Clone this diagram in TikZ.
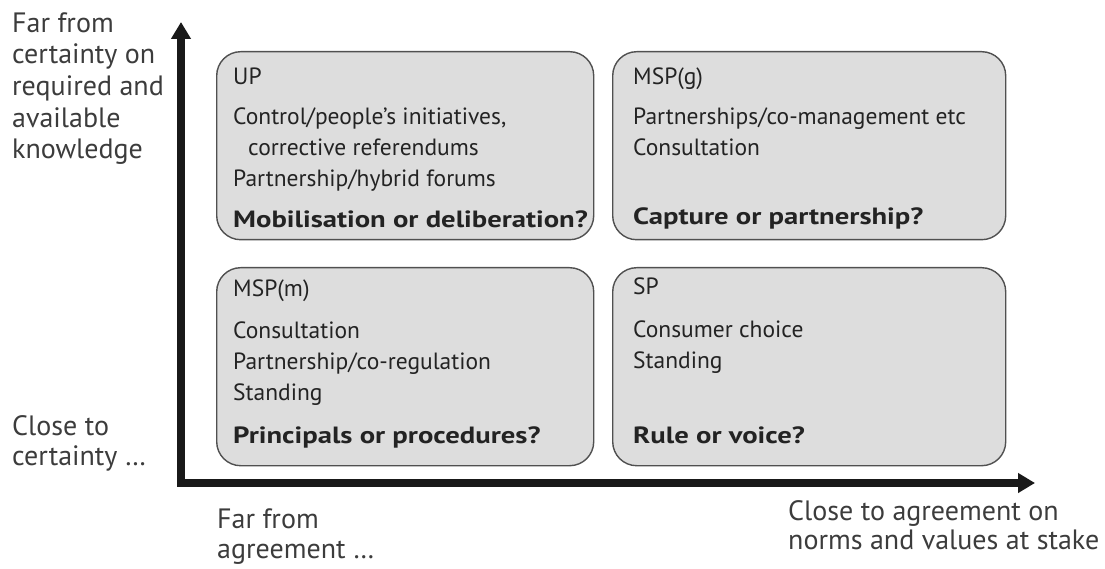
\documentclass[tikz,border=0pt]{standalone}
\usepackage{fontspec}
\setmainfont{PT Sans}
\newfontfamily\widebold[FakeStretch=1.22]{PT Sans Bold}
\usetikzlibrary{arrows.meta,positioning}

\definecolor{boxfill}{RGB}{221,221,221}
\definecolor{boxline}{RGB}{80,80,80}
\definecolor{inktext}{RGB}{35,35,35}
\definecolor{labelgray}{RGB}{60,60,60}

\newcommand{\question}[1]{{\widebold #1}}

\begin{document}
\begin{tikzpicture}[
    x=1pt, y=1pt,
    font=\fontsize{23.5}{31}\selectfont,
    quad/.style={draw=boxline, line width=1.4pt, fill=boxfill, rounded corners=24pt,
                 anchor=north west, inner sep=0pt},
    quadtext/.style={anchor=base west, align=left, inner sep=0pt, text=inktext},
    axislabel/.style={anchor=base west, align=left, inner sep=0pt, text=labelgray},
    axis/.style={line width=8pt, draw=black!90,
                 {Triangle[length=17pt,width=19pt]}-{Triangle[length=17pt,width=19pt]}}
]
\useasboundingbox (0,0) rectangle (1105,-569);

% the four quadrants
\node[quad, minimum width=377pt, minimum height=188pt] (up)  at (216,-51)  {};
\node[quad, minimum width=393pt, minimum height=188pt] (mspg) at (612,-51)  {};
\node[quad, minimum width=377pt, minimum height=198pt] (mspm) at (216,-267) {};
\node[quad, minimum width=393pt, minimum height=198pt] (sp)  at (612,-267) {};

% text is anchored at the baseline of its last (bold) line
\node[below right=177pt and 17pt of up.north west, quadtext] (uptext)
    {UP\\[9pt]
     Control/people's initiatives,\\
     \hspace*{15pt}corrective referendums\\
     Partnership/hybrid forums\\[10pt]
     \question{Mobilisation or deliberation?}};
\node[below right=174pt and 21pt of mspg.north west, quadtext] (mspgtext)
    {MSP(g)\\[9pt]
     Partnerships/co-management etc\\
     Consultation\\[38pt]
     \question{Capture or partnership?}};
\node[below right=176pt and 17pt of mspm.north west, quadtext] (mspmtext)
    {MSP(m)\\[11pt]
     Consultation\\
     Partnership/co-regulation\\
     Standing\\[12pt]
     \question{Principals or procedures?}};
\node[below right=176pt and 21pt of sp.north west, quadtext] (sptext)
    {SP\\[12pt]
     Consumer choice\\
     Standing\\[44pt]
     \question{Rule or voice?}};

% axes
\coordinate (origin) at (181,-483);
\coordinate (ytip) at (181,-22);
\coordinate (xtip) at (1035,-483);
\draw[axis] (ytip) -- (origin) -- (xtip);

% axis labels
\node[axislabel, font=\fontsize{28}{31.7}\selectfont] (yfar) at (12,-159)
    {Far from\\ certainty on\\ required and\\ available\\ knowledge};
\node[axislabel, font=\fontsize{28}{30}\selectfont] (yclose) at (12,-465)
    {Close to\\ certainty \ldots};
\node[axislabel, font=\fontsize{28}{30}\selectfont] (xfar) at (217,-558)
    {Far from\\ agreement \ldots};
\node[axislabel, font=\fontsize{28}{29}\selectfont] (xclose) at (788,-549)
    {Close to agreement on\\ norms and values at stake};
\end{tikzpicture}
\end{document}
